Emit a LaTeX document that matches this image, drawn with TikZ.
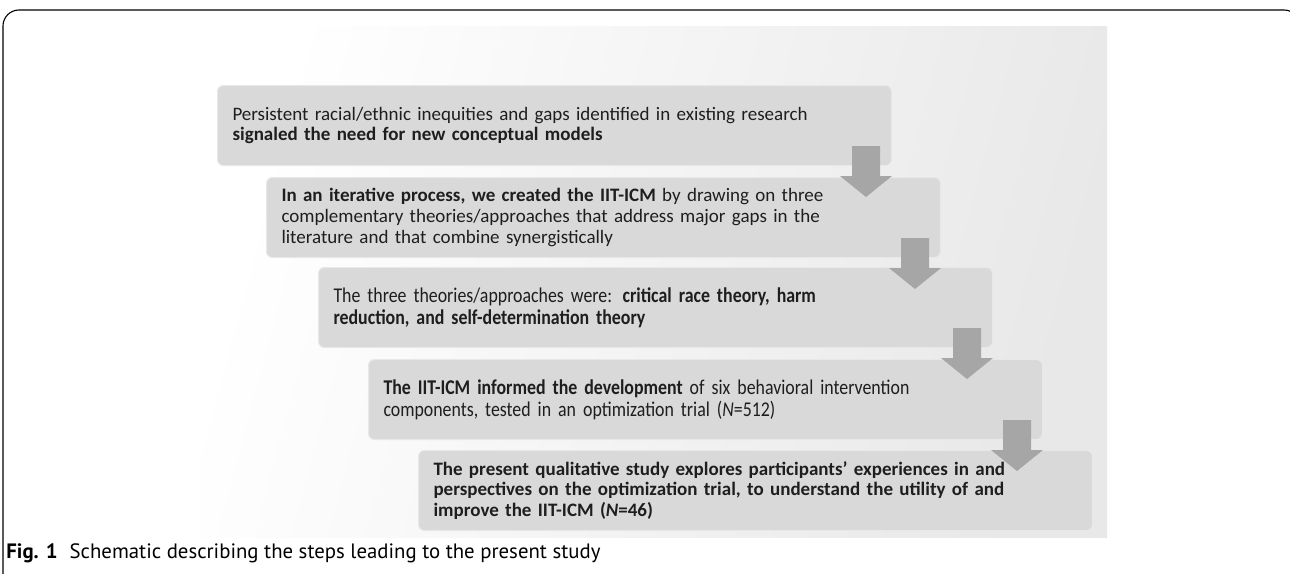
\documentclass[tikz,border=0pt]{standalone}
\usepackage{fontspec}
\setmainfont{Carlito}
\newfontfamily\narrowfont[FakeStretch=0.85]{Carlito}
\newfontfamily\capfont{PT Sans}
\usepackage{tikz}

\definecolor{boxgray}{HTML}{D9D9D9}
\definecolor{boxedge}{HTML}{E8E8E8}
\definecolor{arrowgray}{HTML}{A6A6A6}
\definecolor{textgray}{HTML}{1E1E1E}

\tikzset{
  stepbox/.style={rectangle, rounded corners=3pt, fill=boxgray, draw=boxedge,
    line width=0.5pt, text width=322pt, inner xsep=7.5pt, minimum height=40pt,
    align=left, anchor=north west, text=textgray,
    font=\fontsize{9.5pt}{10.3pt}\selectfont},
  narrowbox/.style={stepbox, font=\narrowfont\fontsize{10.5pt}{10.9pt}\selectfont},
  downarrow/.style={fill=arrowgray}
}

\begin{document}
\begin{tikzpicture}[x=0.5pt,y=-0.5pt]
        \useasboundingbox (0,0) rectangle (1290,573);
        % frame and background panel
        \draw[line width=0.55pt, rounded corners=8pt] (3,600) -- (3,10) -- (1300,10) -- (1300,600);
        \shade[left color=white, right color=black!9, shading angle=75] (200,26) rectangle (1107,537);

        \node[stepbox] (ineq) at (217,85) {Persistent racial/ethnic inequities and gaps identified in existing research\\
          \textbf{signaled the need for new conceptual models}};
        \node[stepbox] (iter) at (266,177) {\textbf{In an iterative process, we created the IIT-ICM} by drawing on three\\
          complementary theories/approaches that address major gaps in the\\
          literature and that combine synergistically};
        \node[narrowbox] (theo) at (318,267) {The three theories/approaches were: \textbf{critical race theory, harm}\\
          \textbf{reduction, and self-determination theory}};
        \node[narrowbox] (comp) at (368,359) {\textbf{The IIT-ICM informed the development} of six behavioral intervention\\
          components, tested in an optimization trial (\textit{N}=512)};
        \node[stepbox] (qual) at (418,450) {\textbf{The present qualitative study explores participants' experiences in and}\\
          \textbf{perspectives on the optimization trial, to understand the utility of and}\\
          \textbf{improve the IIT-ICM (\textit{N}=46)}};

        % block arrows between the steps
        \fill[downarrow, shift={(ineq.south east)}] (-40,-20) -- (-12,-20) -- (-12,10) -- (0,10) -- (-26,31) -- (-52,10) -- (-40,10) -- cycle;
        \fill[downarrow, shift={(iter.south east)}] (-40,-20) -- (-12,-20) -- (-12,10) -- (0,10) -- (-26,31) -- (-52,10) -- (-40,10) -- cycle;
        \fill[downarrow, shift={(theo.south east)}] (-40,-20) -- (-12,-20) -- (-12,10) -- (0,10) -- (-26,31) -- (-52,10) -- (-40,10) -- cycle;
        \fill[downarrow, shift={(comp.south east)}] (-40,-20) -- (-12,-20) -- (-12,10) -- (0,10) -- (-26,31) -- (-52,10) -- (-40,10) -- cycle;

        \node[anchor=west, inner sep=0pt, font=\capfont\fontsize{10.4pt}{12pt}\selectfont] (cap) at (6,553)
          {\textbf{Fig. 1}\hspace{6pt}Schematic describing the steps leading to the present study};
      \end{tikzpicture}
\end{document}
